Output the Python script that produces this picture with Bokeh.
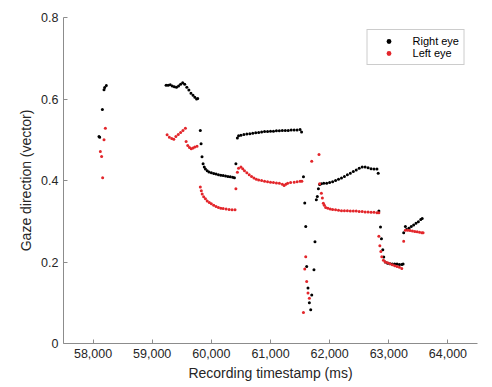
from bokeh.plotting import figure
from bokeh.models import FixedTicker, NumeralTickFormatter, CustomJSTickFormatter, Legend, LegendItem, Range1d
from bokeh.embed import file_html
from bokeh.resources import INLINE

# ---- data ----
right_t = [58100, 58112, 58157, 58185, 58196, 58224,
           59235, 59270, 59305, 59340, 59375, 59410, 59445, 59480, 59515, 59550, 59585, 59620, 59655, 59690, 59720, 59750, 59770,
           59813, 59826, 59842, 59860,
           59880, 59900, 59930, 59960, 60000, 60040, 60080, 60120, 60160, 60200, 60240, 60280, 60320, 60360, 60390,
           60415,
           60440, 60460, 60500, 60550, 60600, 60650, 60700, 60750, 60800, 60850, 60900, 60950, 61000, 61050, 61100, 61150,
           61200, 61250, 61300, 61350, 61400, 61450, 61500, 61525,
           61557, 61579, 61596, 61612, 61634, 61657, 61680, 61697, 61735, 61752, 61775, 61792, 61810,
           61831, 61860, 61900, 61950, 62000, 62050, 62100, 62150, 62200, 62250, 62300, 62350, 62400, 62450, 62500, 62550,
           62600, 62650, 62700, 62750, 62800, 62821,
           62832, 62860, 62876, 62899, 62915,
           62940, 62980, 63020, 63060, 63100, 63140, 63180, 63220, 63242,
           63252, 63281,
           63300, 63340, 63380, 63420, 63460, 63500, 63540, 63565]
right_v = [0.508, 0.506, 0.574, 0.623, 0.628, 0.633,
           0.634, 0.634, 0.635, 0.632, 0.630, 0.629, 0.632, 0.636, 0.640, 0.636, 0.629, 0.622, 0.614, 0.609, 0.604, 0.600, 0.601,
           0.523, 0.490, 0.458, 0.441,
           0.433, 0.428, 0.424, 0.421, 0.419, 0.417, 0.416, 0.414, 0.413, 0.412, 0.411, 0.410, 0.409, 0.408, 0.407,
           0.441,
           0.504, 0.510, 0.511, 0.513, 0.514, 0.515, 0.516, 0.517, 0.518, 0.519, 0.520, 0.520, 0.521, 0.521, 0.522, 0.522,
           0.523, 0.523, 0.523, 0.524, 0.524, 0.524, 0.525, 0.519,
           0.409, 0.345, 0.287, 0.189, 0.136, 0.100, 0.083, 0.119, 0.181, 0.250, 0.353, 0.361, 0.380,
           0.390, 0.392, 0.393, 0.393, 0.395, 0.397, 0.400, 0.403, 0.406, 0.410, 0.414, 0.418, 0.422, 0.426, 0.430, 0.433,
           0.433, 0.431, 0.429, 0.428, 0.428, 0.418,
           0.325, 0.286, 0.257, 0.230, 0.212,
           0.200, 0.197, 0.196, 0.195, 0.195, 0.195, 0.194, 0.194, 0.195,
           0.272, 0.287,
           0.280, 0.283, 0.287, 0.291, 0.295, 0.299, 0.304, 0.307]

left_t = [58123, 58145, 58162, 58185, 58208,
          59252, 59290, 59330, 59365, 59400, 59440, 59480, 59520, 59561,
          59573, 59601, 59630, 59660, 59690, 59720, 59758,
          59813, 59830, 59845, 59870, 59900, 59930, 59965, 60000, 60040, 60080, 60120, 60160, 60200, 60250, 60300, 60350, 60400,
          60415, 60440, 60460,
          60500, 60530, 60560, 60600, 60640, 60680, 60720, 60760, 60800, 60850, 60900, 60950, 61000, 61050, 61100, 61150,
          61200, 61230, 61260, 61290, 61340, 61400, 61450, 61500, 61530,
          61557, 61579, 61596, 61612, 61634, 61657, 61697, 61820,
          61831, 61860, 61877, 61893, 61910,
          61933, 61970, 62010, 62050, 62100, 62150, 62200, 62250, 62300, 62350, 62400, 62450, 62500, 62550, 62600, 62650,
          62700, 62750, 62800, 62832,
          62832, 62849, 62866, 62882, 62910,
          62940, 62980, 63020, 63060, 63100, 63140, 63180, 63220,
          63252,
          63281, 63320, 63360, 63400, 63440, 63480, 63520, 63560, 63580]
left_v = [0.471, 0.459, 0.407, 0.500, 0.528,
          0.512, 0.506, 0.503, 0.501, 0.508, 0.513, 0.518, 0.523, 0.528,
          0.496, 0.486, 0.481, 0.478, 0.480, 0.482, 0.484,
          0.384, 0.375, 0.367, 0.360, 0.355, 0.350, 0.346, 0.343, 0.339, 0.336, 0.334, 0.332, 0.331, 0.330, 0.329, 0.328, 0.328,
          0.380, 0.420, 0.430,
          0.433, 0.429, 0.424, 0.419, 0.414, 0.410, 0.406, 0.403, 0.401, 0.400, 0.398, 0.397, 0.396, 0.395, 0.394, 0.393,
          0.391, 0.388, 0.391, 0.393, 0.395, 0.396, 0.397, 0.398, 0.398,
          0.076, 0.183, 0.213, 0.152, 0.124, 0.111, 0.447, 0.464,
          0.392, 0.369, 0.357, 0.344, 0.339,
          0.334, 0.332, 0.330, 0.329, 0.328, 0.327, 0.326, 0.326, 0.326, 0.325, 0.325, 0.325, 0.324, 0.324, 0.323, 0.323,
          0.322, 0.322, 0.321, 0.321,
          0.263, 0.240, 0.226, 0.213, 0.204,
          0.200, 0.198, 0.196, 0.193, 0.191, 0.189, 0.187, 0.184,
          0.251,
          0.278, 0.278, 0.277, 0.276, 0.275, 0.274, 0.273, 0.272, 0.272]

x_ticks = [58000, 59000, 60000, 61000, 62000, 63000, 64000]
y_ticks = [0, 0.2, 0.4, 0.6, 0.8]
series_names = ["Right eye", "Left eye"]
series_colors = ["#000000", "#e3262b"]

FONT = "Liberation Sans"

p = figure(width=492, height=387, output_backend="svg", toolbar_location=None,
           x_range=Range1d(57500, 64500), y_range=Range1d(0, 0.8),
           min_border_left=63, min_border_right=15, min_border_top=17, min_border_bottom=44)
p.outline_line_color = None
p.xgrid.visible = False
p.ygrid.visible = False
p.background_fill_color = "white"
p.border_fill_color = "white"

r1 = p.scatter(right_t, right_v, marker="circle", size=3, fill_color=series_colors[0], line_color=None)
r2 = p.scatter(left_t, left_v, marker="circle", size=3, fill_color=series_colors[1], line_color=None)

for ax in (p.xaxis[0], p.yaxis[0]):
    ax.axis_line_color = "#8c8c8c"
    ax.major_tick_line_color = "#8c8c8c"
    ax.major_tick_in = 4
    ax.major_tick_out = 0
    ax.minor_tick_line_color = None
    ax.major_label_text_font = FONT
    ax.major_label_text_font_size = "12.5px"
    ax.major_label_text_color = "#262626"
    ax.axis_label_text_font = FONT
    ax.axis_label_text_font_size = "14px"
    ax.axis_label_text_font_style = "normal"
    ax.axis_label_text_color = "#262626"
    ax.major_label_standoff = 5
    ax.axis_label_standoff = 4

p.xaxis.ticker = FixedTicker(ticks=x_ticks)
p.yaxis.ticker = FixedTicker(ticks=y_ticks)
p.xaxis.formatter = NumeralTickFormatter(format="0,0")
p.yaxis.formatter = CustomJSTickFormatter(code="return tick === 0 ? '0' : tick.toFixed(1);")
p.xaxis.axis_label = "Recording timestamp (ms)"
p.yaxis.axis_label = "Gaze direction (vector)"

legend = Legend(items=[LegendItem(label=series_names[0], renderers=[r1]),
                       LegendItem(label=series_names[1], renderers=[r2])],
                location="top_right")
legend.margin = 12
legend.padding = 5
legend.spacing = 0
legend.glyph_width = 32
legend.glyph_height = 12
legend.label_height = 12
legend.label_standoff = 8
legend.label_text_font = FONT
legend.label_text_font_size = "11px"
legend.label_text_color = "#000000"
legend.border_line_color = "#999999"
legend.border_line_width = 1
legend.background_fill_alpha = 1
p.add_layout(legend)

open("out.html", "w").write(file_html(p, INLINE))
